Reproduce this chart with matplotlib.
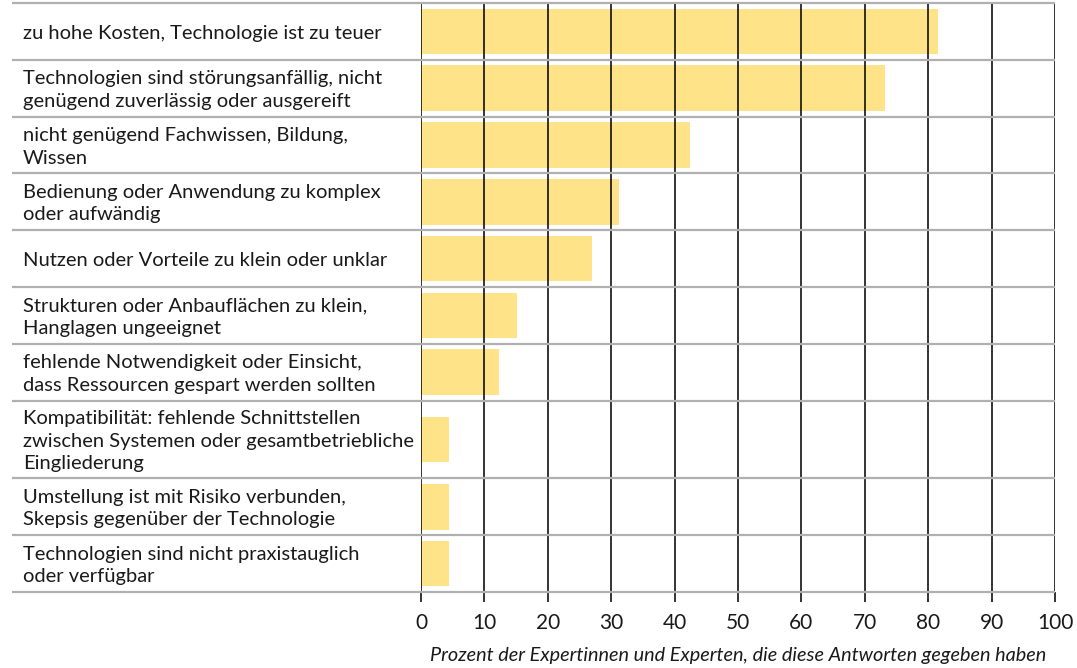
import matplotlib.pyplot as plt
import matplotlib.transforms as mtransforms
import numpy as np

plt.rcParams['font.family'] = ['Lato', 'DejaVu Sans']

labels = [
    "zu hohe Kosten, Technologie ist zu teuer",
    "Technologien sind störungsanfällig, nicht\ngenügend zuverlässig oder ausgereift",
    "nicht genügend Fachwissen, Bildung,\nWissen",
    "Bedienung oder Anwendung zu komplex\noder aufwändig",
    "Nutzen oder Vorteile zu klein oder unklar",
    "Strukturen oder Anbauflächen zu klein,\nHanglagen ungeeignet",
    "fehlende Notwendigkeit oder Einsicht,\ndass Ressourcen gespart werden sollten",
    "Kompatibilität: fehlende Schnittstellen\nzwischen Systemen oder gesamtbetriebliche\nEingliederung",
    "Umstellung ist mit Risiko verbunden,\nSkepsis gegenüber der Technologie",
    "Technologien sind nicht praxistauglich\noder verfügbar",
]
values = [81.5, 73.2, 42.4, 31.2, 27.0, 15.1, 12.3, 4.4, 4.4, 4.4]
xticks = list(range(0, 101, 10))
xlabel = "Prozent der Expertinnen und Experten, die diese Antworten gegeben haben"

# row heights: three-line rows are taller
row_h = np.array([1.37 if l.count("\n") >= 2 else 1.0 for l in labels])
edges = np.concatenate([[0], np.cumsum(row_h)])
centers = (edges[:-1] + edges[1:]) / 2

fig = plt.figure(figsize=(10.77, 6.68), dpi=100)
ax = fig.add_axes([421 / 1077, 1 - 592 / 668, 634 / 1077, 589 / 668])

ax.barh(centers, values, height=0.80, color="#FEE388", zorder=1)
ax.set_xlim(0, 100)
ax.set_ylim(edges[-1], 0)

# vertical grid lines
ax.vlines(xticks, 0, edges[-1], color="#111111", lw=1.2, zorder=2)

# horizontal separators spanning label column
trans = mtransforms.blended_transform_factory(ax.transAxes, ax.transData)
x_left = (12 - 421) / 634
for e in edges:
    ax.plot([x_left, 1.0], [e, e], transform=trans, color="#b0b0b0", lw=1.6,
            clip_on=False, zorder=3, solid_capstyle="butt")

x_text = (23 - 421) / 634
for c, lab in zip(centers, labels):
    ax.text(x_text, c + 0.03, lab, transform=trans, ha="left", va="center",
            fontsize=14.5, color="#1a1a1a", linespacing=1.4)

for s in ax.spines.values():
    s.set_visible(False)
ax.set_yticks([])
ax.set_xticks(xticks)
ax.tick_params(axis="x", length=7, width=1.2, color="#111111", labelsize=15,
               labelcolor="#1a1a1a", pad=8)
ax.set_xlabel(xlabel, fontsize=14.3, style="italic", color="#1a1a1a", labelpad=10)

fig.savefig("out.png", dpi=100)
